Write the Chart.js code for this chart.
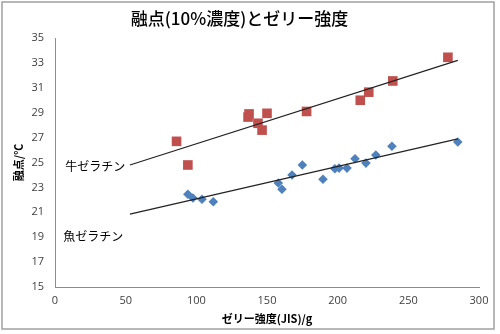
<!DOCTYPE html>
<html>
<head>
<meta charset="utf-8">
<script src="https://cdn.jsdelivr.net/npm/chart.js@4/dist/chart.umd.min.js"></script>
<style>
  html, body { margin: 0; padding: 0; background: #fff; }
</style>
</head>
<body>
<canvas id="chart1" width="500" height="334"></canvas>
<script>
// 牛ゼラチン
var cowX = [86, 94, 136.6, 137.3, 143.6, 146.5, 150, 178, 216, 222, 239, 278];
var cowY = [26.7, 24.8, 28.65, 28.9, 28.15, 27.6, 28.95, 29.1, 30.0, 30.65, 31.55, 33.45];
// 魚ゼラチン
var fishX = [94, 97.6, 104, 112, 158, 160.6, 167.7, 175, 189.6, 198, 201, 206.6, 212.3, 220, 227, 238.4, 285];
var fishY = [22.45, 22.15, 22.05, 21.85, 23.35, 22.85, 24.0, 24.8, 23.65, 24.5, 24.55, 24.55, 25.3, 24.95, 25.6, 26.3, 26.65];
// trend line ends
var trendX = [53, 285];
var cowTrend = [24.8, 33.2];
var fishTrend = [20.85, 26.9];

var xTicks = [0, 50, 100, 150, 200, 250, 300];
var yTicks = [15, 17, 19, 21, 23, 25, 27, 29, 31, 33, 35];

function pts(xs, ys) {
  return xs.map(function (x, i) { return { x: x, y: ys[i] }; });
}

var jp = '"Noto Sans CJK JP", "Noto Sans", sans-serif';

const frame = {
  id: 'frame',
  beforeDraw: function (chart) {
    var c = chart.ctx;
    c.save();
    c.fillStyle = '#fff';
    c.fillRect(0, 0, chart.width, chart.height);
    c.restore();
  },
  afterDraw: function (chart) {
    var c = chart.ctx;
    c.save();
    c.strokeStyle = '#a0a0a0';
    c.lineWidth = 1.5;
    c.strokeRect(2, 2, 492, 327);
    // series labels
    var xs = chart.scales.x, ys = chart.scales.y;
    c.fillStyle = '#000';
    c.font = '12px ' + jp;
    c.textAlign = 'center';
    c.textBaseline = 'middle';
    c.fillText('牛ゼラチン', xs.getPixelForValue(28.5), ys.getPixelForValue(24.7));
    c.fillText('魚ゼラチン', xs.getPixelForValue(27), ys.getPixelForValue(19.1));
    c.restore();
  }
};

const ctx1 = document.getElementById('chart1');
const chart1 = new Chart(ctx1, {
  type: 'scatter',
  plugins: [frame],
  data: {
    datasets: [{
      label: '牛 trend',
      data: pts(trendX, cowTrend),
      showLine: true,
      borderColor: '#222',
      borderWidth: 1.2,
      pointRadius: 0
    }, {
      label: '魚 trend',
      data: pts(trendX, fishTrend),
      showLine: true,
      borderColor: '#222',
      borderWidth: 1.2,
      pointRadius: 0
    }, {
      label: '牛ゼラチン',
      data: pts(cowX, cowY),
      pointStyle: 'rect',
      pointRadius: 6.8,
      backgroundColor: '#C0504D',
      borderColor: '#C0504D',
      borderWidth: 0
    }, {
      label: '魚ゼラチン',
      data: pts(fishX, fishY),
      pointStyle: 'rectRot',
      pointRadius: 4.8,
      backgroundColor: '#4F81BD',
      borderColor: '#4F81BD',
      borderWidth: 0
    }]
  },
  options: {
    responsive: false,
    animation: false,
    devicePixelRatio: 1,
    layout: { padding: { left: 0, right: 21, top: 0, bottom: 4 } },
    plugins: {
      legend: { display: false },
      tooltip: { enabled: false },
      title: {
        display: true,
        text: '融点(10%濃度)とゼリー強度',
        color: '#000',
        font: { family: jp, size: 17, weight: '500' },
        padding: { top: 8, bottom: 9.6 }
      }
    },
    scales: {
      x: {
        type: 'linear',
        min: 0,
        max: 300,
        afterBuildTicks: function (s) { s.ticks = xTicks.map(function (v) { return { value: v }; }); },
        afterFit: function (s) { s.height = 43; },
        grid: { display: false, drawTicks: false },
        border: { display: true, color: '#8c8c8c', width: 1 },
        ticks: { color: '#404040', padding: 7, font: { family: '"Open Sans", sans-serif', size: 11 } },
        title: {
          display: true,
          text: 'ゼリー強度(JIS)/g',
          color: '#000',
          font: { family: jp, size: 11, weight: 'bold' },
          padding: { top: 0, bottom: 5 }
        }
      },
      y: {
        type: 'linear',
        min: 15,
        max: 35,
        afterBuildTicks: function (s) { s.ticks = yTicks.map(function (v) { return { value: v }; }); },
        afterFit: function (s) { s.width = 55; },
        grid: { display: false, drawTicks: false },
        border: { display: true, color: '#8c8c8c', width: 1 },
        ticks: { color: '#404040', padding: 11, font: { family: '"Open Sans", sans-serif', size: 11 } },
        title: {
          display: true,
          text: '融点/℃',
          color: '#000',
          font: { family: jp, size: 11, weight: 'bold' },
          padding: { top: 12, bottom: 0 }
        }
      }
    }
  }
});
</script>
</body>
</html>
